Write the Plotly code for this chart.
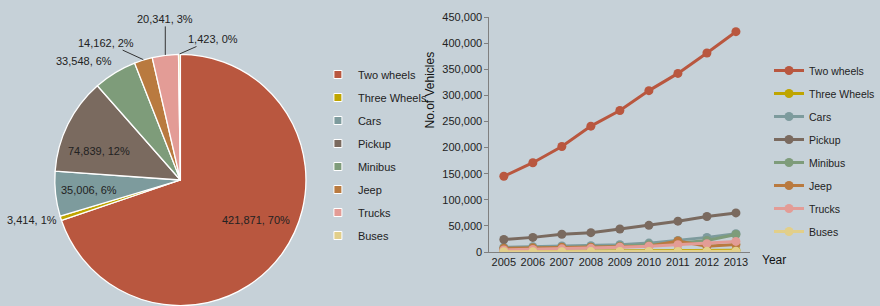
import math
import plotly.graph_objects as go

categories = ["Two wheels", "Three Wheels", "Cars", "Pickup", "Minibus", "Jeep", "Trucks", "Buses"]
totals_2013 = [421871, 3414, 35006, 74839, 33548, 14162, 20341, 1423]
colors = ["#B9573F", "#BFA500", "#7D9B9D", "#7A6A5F", "#7E9C7A", "#B97A3F", "#E39C96", "#E2CF8A"]

years = ["2005", "2006", "2007", "2008", "2009", "2010", "2011", "2012", "2013"]
two_wheels = [145000, 171000, 202000, 241000, 271000, 309000, 342000, 381000, 421871]
three_wheels = [1000, 1200, 1500, 1800, 2000, 2400, 2700, 3000, 3414]
cars = [9000, 10000, 11500, 12000, 14000, 17000, 22000, 28000, 35006]
pickup = [24000, 28000, 34000, 37000, 44000, 51000, 59000, 68000, 74839]
minibus = [6000, 7000, 8000, 9000, 11000, 14000, 17000, 22000, 33548]
jeep = [7000, 8000, 9000, 9000, 10000, 11000, 21000, 11000, 14162]
trucks = [4000, 5000, 6000, 7000, 9000, 11000, 14000, 16000, 20341]
buses = [500, 600, 700, 800, 900, 1000, 1100, 1300, 1423]
series = [two_wheels, three_wheels, cars, pickup, minibus, jeep, trucks, buses]

y_ticks = list(range(0, 450001, 50000))

FONT = "Liberation Sans, Arial, sans-serif"
FS = 11
TXT = "#222222"
BG = "#C6D1D8"
W, H = 880, 306

# pie geometry (pixels)
PIE_CX, PIE_CY, PIE_R = 181, 180, 126

fig = go.Figure()

fig.add_trace(go.Pie(
    labels=categories, values=totals_2013,
    marker=dict(colors=colors, line=dict(color="white", width=1.3)),
    sort=False, direction="clockwise", rotation=0,
    textinfo="none",
    domain=dict(x=[(PIE_CX - PIE_R) / W, (PIE_CX + PIE_R) / W],
                y=[max(0, 1 - (PIE_CY + PIE_R) / H), 1 - (PIE_CY - PIE_R) / H]),
    showlegend=False, hoverinfo="label+value+percent",
))

# legend entries for the pie (square swatches)
for name, col in zip(categories, colors):
    fig.add_trace(go.Scatter(
        x=[None], y=[None], name=name, mode="markers",
        marker=dict(symbol="square", size=8, color=col, line=dict(color="white", width=1)),
        legend="legend", legendgroup="p_" + name, hoverinfo="skip",
    ))

for name, vals, col in zip(categories, series, colors):
    fig.add_trace(go.Scatter(
        x=years, y=vals, name=name, mode="lines+markers",
        line=dict(color=col, width=3), marker=dict(color=col, size=9),
        legend="legend2", legendgroup="l_" + name,
    ))

# pie data labels, positioned from each slice's mid angle
total = sum(totals_2013)
# (mode, radial factor, xshift, yshift, ax, ay)
label_style = {
    "Two wheels": ("in", 0.68, 6, 10, 0, 0),
    "Three Wheels": ("right", 1.0, -2, -2, 0, 0),
    "Cars": ("in", 0.73, 0, 0, 0, 0),
    "Pickup": ("in", 0.69, -4, -10, 0, 0),
    "Minibus": ("rightbottom", 1.0, -1, 3, 0, 0),
    "Jeep": ("arrow", 1.0, 0, 0, -37, -17),
    "Trucks": ("arrow", 1.0, 0, 0, 0, -36),
    "Buses": ("arrow", 1.0, 0, 0, 34, -15),
}
annotations = []
cum = 0
for name, v in zip(categories, totals_2013):
    mid = (cum + v / 2) / total
    cum += v
    ang = 2 * math.pi * mid
    mode, k, xs, ys, ax, ay = label_style[name]
    px = PIE_CX + PIE_R * k * math.sin(ang)
    py = PIE_CY - PIE_R * k * math.cos(ang)
    text = f"{v:,}, {round(100 * v / total)}%"
    a = dict(text=text, xref="paper", yref="paper", x=px / W, y=1 - py / H,
             xshift=xs, yshift=ys, font=dict(family=FONT, size=FS, color=TXT))
    if mode == "in":
        a.update(showarrow=False, xanchor="center", yanchor="middle")
    elif mode == "right":
        a.update(showarrow=False, xanchor="right", yanchor="middle")
    elif mode == "rightbottom":
        a.update(showarrow=False, xanchor="right", yanchor="bottom")
    else:
        a.update(showarrow=True, arrowhead=0, arrowwidth=1, arrowcolor="#333333",
                 ax=ax, ay=ay, standoff=0, startstandoff=0)
    annotations.append(a)

annotations.append(dict(text="Year", xref="paper", yref="paper", x=763 / W, y=1 - 260 / H,
                        showarrow=False, xanchor="left", yanchor="middle",
                        font=dict(size=12, family=FONT, color="#111111")))
annotations.append(dict(text="No.of Vehicles", xref="paper", yref="paper", x=431 / W, y=1 - 90 / H,
                        showarrow=False, xanchor="center", yanchor="middle", textangle=-90,
                        font=dict(size=12, family=FONT, color="#111111")))

fig.update_layout(
    width=W, height=H,
    margin=dict(l=0, r=0, t=0, b=0),
    paper_bgcolor=BG, plot_bgcolor=BG,
    font=dict(family=FONT, size=FS, color=TXT),
    xaxis=dict(domain=[491 / W, 753 / W], type="category", range=[-0.5, 8.5],
               showgrid=False, automargin=False, tickangle=0,
               showline=True, linecolor="#808080", linewidth=1, ticks="",
               tickfont=dict(size=FS, family=FONT, color=TXT)),
    yaxis=dict(domain=[1 - 252 / H, 1 - 17 / H], range=[0, 450000], tickvals=y_ticks,
               tickformat=",", showgrid=False, zeroline=False, automargin=False,
               showline=True, linecolor="#808080", linewidth=1,
               ticks="outside", ticklen=4, tickcolor="#808080",
               tickfont=dict(size=FS, family=FONT, color=TXT)),
    legend=dict(x=319 / W, y=1 - 60 / H, xanchor="left", yanchor="top",
                bgcolor="rgba(0,0,0,0)", tracegroupgap=4,
                font=dict(size=FS, family=FONT, color=TXT)),
    legend2=dict(x=772 / W, y=1 - 56 / H, xanchor="left", yanchor="top",
                 bgcolor="rgba(0,0,0,0)", tracegroupgap=4,
                 font=dict(size=10.5, family=FONT, color=TXT)),
    annotations=annotations,
)

fig.write_html("out.html", config={"displayModeBar": False},
               post_script="document.body.style.margin='0';document.body.style.background='" + BG + "';")
